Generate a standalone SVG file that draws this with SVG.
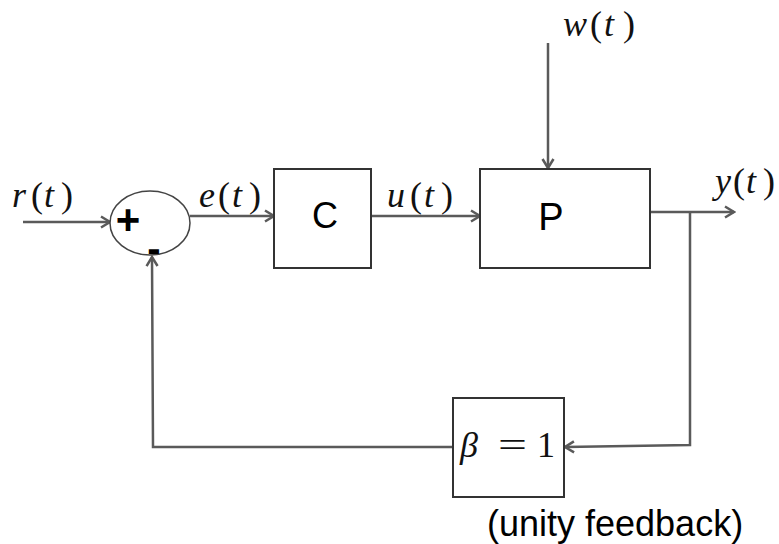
<svg xmlns="http://www.w3.org/2000/svg" width="779" height="544" viewBox="0 0 779 544">
  <style>
    .wire { fill: none; stroke: #5a5a5a; stroke-width: 2.5; }
    .box { fill: #ffffff; stroke: #333333; stroke-width: 2; }
    .sum { fill: #ffffff; stroke: #444444; stroke-width: 1.5; }
    .math { font-family: "Liberation Serif", "DejaVu Serif", serif; font-size: 36px; fill: #111111; }
    .var { font-style: italic; }
    .lbl { font-family: "Liberation Sans", Arial, sans-serif; fill: #000000; }
  </style>
  <defs>
    <marker id="arrow" markerUnits="userSpaceOnUse" markerWidth="12" markerHeight="14" refX="10" refY="7" orient="auto">
      <path d="M1,1.5 L10,7 L1,12.5" fill="none" stroke="#5a5a5a" stroke-width="2.5" stroke-linejoin="miter"/>
    </marker>
  </defs>

  <!-- signal paths -->
  <g id="connectors">
    <path class="wire" d="M23,222 L110,222" marker-end="url(#arrow)"/>
    <path class="wire" d="M190,216 L274,216" marker-end="url(#arrow)"/>
    <path class="wire" d="M371,216 L480,216" marker-end="url(#arrow)"/>
    <path class="wire" d="M548,43 L548,168" marker-end="url(#arrow)"/>
    <path class="wire" d="M650,212 L734,212" marker-end="url(#arrow)"/>
    <path class="wire" d="M690,212 L690,445 L565,447" marker-end="url(#arrow)"/>
    <path class="wire" d="M453,447 L153,447 L152,257" marker-end="url(#arrow)"/>
  </g>

  <!-- summing junction -->
  <g id="sum">
    <ellipse class="sum" cx="150" cy="223" rx="40" ry="32"/>
    <text class="lbl" x="128" y="234" font-size="42" font-weight="bold" text-anchor="middle">+</text>
    <text class="lbl" x="154" y="262" font-size="40" font-weight="bold" text-anchor="middle">-</text>
  </g>

  <!-- controller -->
  <g id="controller">
    <rect class="box" x="274" y="169" width="97" height="99"/>
    <text class="lbl" x="325" y="228" font-size="36" text-anchor="middle">C</text>
  </g>

  <!-- plant -->
  <g id="plant">
    <rect class="box" x="480" y="169" width="170" height="99"/>
    <text class="lbl" x="551" y="230" font-size="38" text-anchor="middle">P</text>
  </g>

  <!-- feedback gain -->
  <g id="feedback">
    <rect class="box" x="453" y="398" width="111" height="99"/>
    <text class="math" x="460" y="457" font-size="40" font-style="italic">β</text>
    <text class="math" x="498" y="457" font-size="40" textLength="29" lengthAdjust="spacingAndGlyphs">=</text>
    <text class="math" x="537" y="457" font-size="40">1</text>
  </g>

  <!-- signal labels -->
  <g id="labels">
    <text class="math" y="207"><tspan class="var" x="12">r</tspan><tspan x="31">(</tspan><tspan class="var" x="44">t</tspan><tspan x="61">)</tspan></text>
    <text class="math" y="207"><tspan class="var" x="199">e</tspan><tspan x="218">(</tspan><tspan class="var" x="232">t</tspan><tspan x="249">)</tspan></text>
    <text class="math" y="207"><tspan class="var" x="387">u</tspan><tspan x="410">(</tspan><tspan class="var" x="424">t</tspan><tspan x="441">)</tspan></text>
    <text class="math" y="36"><tspan class="var" x="563">w</tspan><tspan x="590">(</tspan><tspan class="var" x="604">t</tspan><tspan x="623">)</tspan></text>
    <text class="math" y="193"><tspan class="var" x="715">y</tspan><tspan x="733">(</tspan><tspan class="var" x="746">t</tspan><tspan x="763">)</tspan></text>
    <text class="lbl" x="487" y="536" font-size="36">(unity feedback)</text>
  </g>
</svg>
